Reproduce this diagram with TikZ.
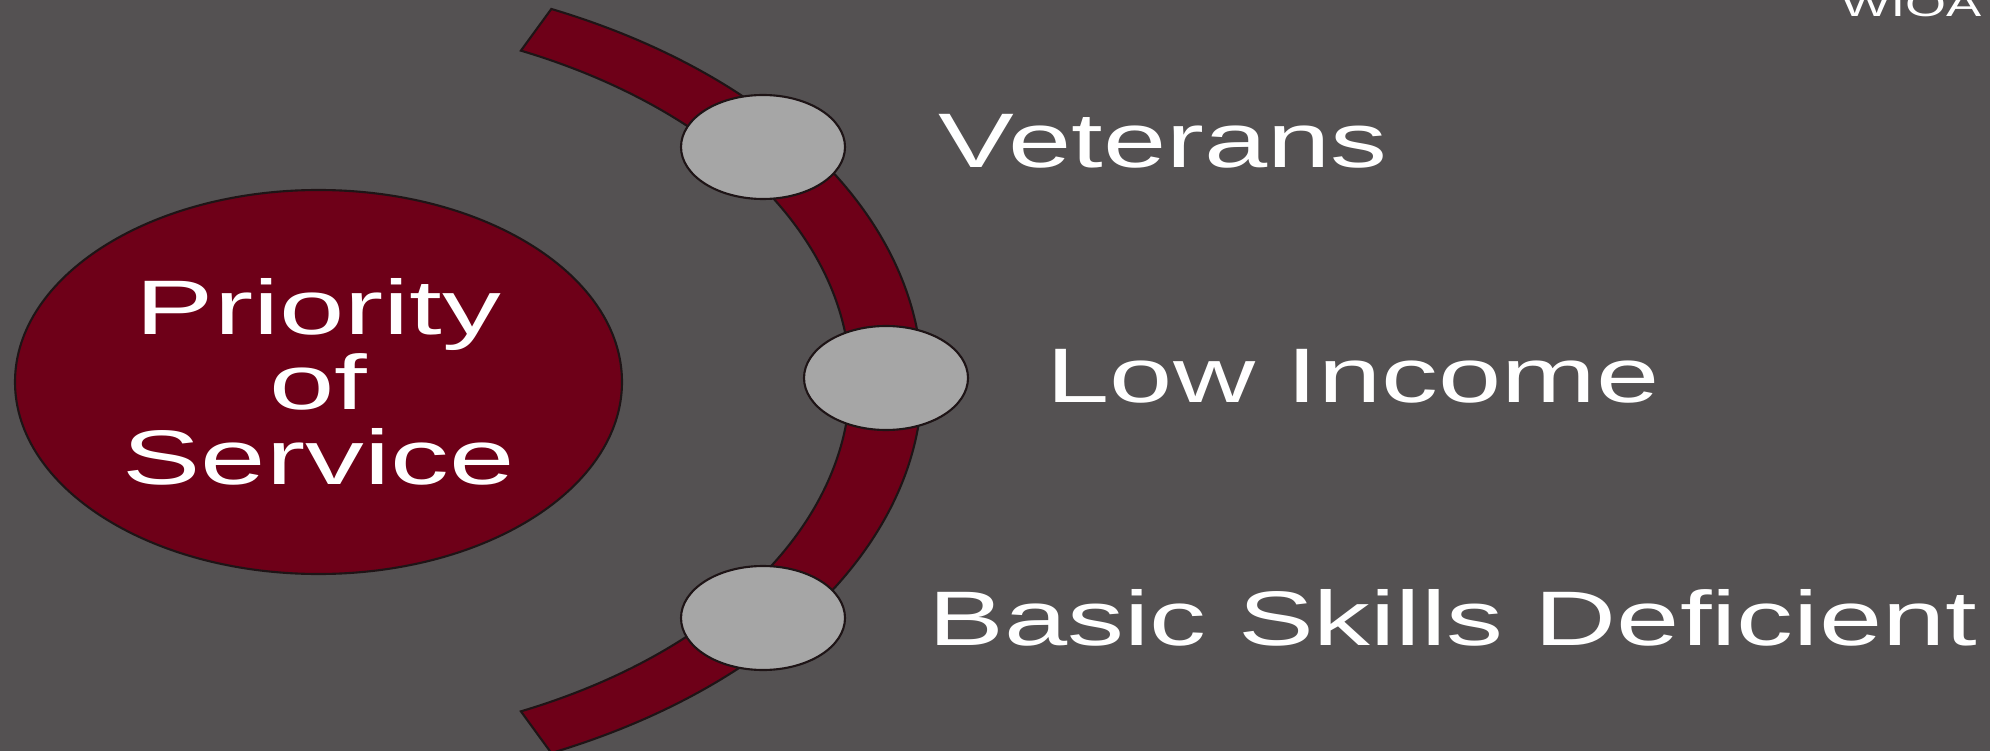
\documentclass[tikz,border=0pt]{standalone}
\usepackage{fontspec}
\setmainfont{Liberation Sans}
\usepackage{graphicx}
\usetikzlibrary{shapes.geometric}
\definecolor{slategrey}{RGB}{84,81,82}
\definecolor{priomaroon}{RGB}{110,0,24}
\definecolor{dotgrey}{RGB}{166,166,166}
\definecolor{edgedark}{RGB}{30,20,22}
\newcommand{\widetext}[2][1.47]{\scalebox{#1}[1]{#2}}

\begin{document}
\begin{tikzpicture}[
    every node/.style={text=white},
    prio disc/.style={ellipse, draw=edgedark, line width=0.6pt, fill=priomaroon,
                      inner sep=0pt, minimum width=6.07cm, minimum height=3.84cm,
                      align=center, font=\fontsize{22}{21.3}\selectfont},
    group dot/.style={ellipse, draw=edgedark, line width=0.6pt, fill=dotgrey,
                      inner sep=0pt, minimum width=1.64cm, minimum height=1.04cm},
    group label/.style={anchor=base west, inner sep=0pt, font=\fontsize{22}{26}\selectfont},
    band/.style={fill=priomaroon, draw=edgedark, line width=0.6pt},
  ]

  % ============ CANVAS ============
  \useasboundingbox (0,0) rectangle (19.90,-7.51);
  \clip (0,0) rectangle (19.90,-7.51);
  \fill[slategrey] (0,0) rectangle (19.90,-7.51);

  % ============ CURVED BAND ============
  \coordinate (arcc) at (2.80,-3.81);
  \path[band] ([shift={(65:6.42 and 4.105)}]arcc)
      arc[start angle=65, end angle=-65, x radius=6.42, y radius=4.105]
      -- ([shift={(-65:5.70 and 3.645)}]arcc)
      arc[start angle=-65, end angle=65, x radius=5.70, y radius=3.645]
      -- cycle;

  % ============ CENTRE DISC ============
  \node[prio disc] (prio) at (3.185,-3.82)
    {\widetext[1.52]{Priority}\\\widetext[1.52]{of}\\\widetext[1.52]{Service}};

  % ============ DOTS ON THE BAND ============
  \node[group dot] (vet) at (7.63,-1.47) {};
  \node[group dot] (low) at (8.86,-3.78) {};
  \node[group dot] (bsd) at (7.63,-6.18) {};

  % ============ LABELS ============
  \node[group label] (vetlbl) at (9.38,-1.68) {\widetext{Veterans}};
  \node[group label] (lowlbl) at (10.46,-4.02) {\widetext{Low Income}};
  \node[group label] (bsdlbl) at (9.28,-6.45) {\widetext{Basic Skills Deficient}};

  % corner tag, mostly off the top edge
  \node[anchor=base east, inner sep=0pt, font=\fontsize{10}{12}\selectfont] (wioa)
    at (19.82,-0.17) {\widetext[1.5]{WIOA}};

\end{tikzpicture}
\end{document}
